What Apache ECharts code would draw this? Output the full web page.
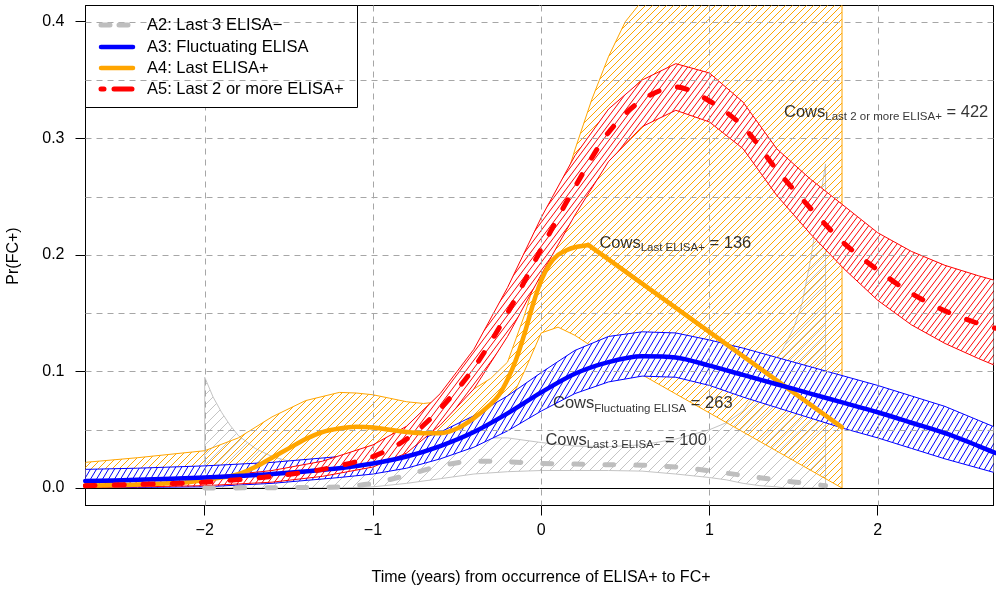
<!DOCTYPE html>
<html>
<head>
<meta charset="utf-8">
<script src="https://cdn.jsdelivr.net/npm/echarts@6/dist/echarts.min.js"></script>
<style>
  html, body { margin: 0; padding: 0; background: #ffffff; }
  #chart { width: 996px; height: 589px; }
</style>
</head>
<body>
<div id="chart"></div>
<script>
// ---- axis ticks and reference lines ----
const xTicks = [-2, -1, 0, 1, 2];
const yTicks = [0, 0.1, 0.2, 0.3, 0.4];
const gridXValues = [-2, -1, 0, 1, 2];
const gridYValues = [0.05, 0.1, 0.15, 0.2, 0.25, 0.3, 0.35, 0.4];

// ---- A2: last 3 ELISA- ----
const a2BandX = [-2.0, -1.95, -1.9, -1.85, -1.8, -1.7, -1.6, -1.5, -1.4, -1.2, -1.0, -0.8, -0.6, -0.4, -0.2, 0.0, 0.2, 0.4, 0.6, 0.8, 1.0, 1.1, 1.2, 1.3, 1.4, 1.45, 1.5, 1.55, 1.6, 1.65, 1.69];
const a2Upper = [0.095, 0.078, 0.065, 0.054, 0.045, 0.034, 0.027, 0.023, 0.021, 0.0195, 0.021, 0.028, 0.038, 0.043, 0.043, 0.039, 0.036, 0.0355, 0.037, 0.042, 0.05, 0.056, 0.066, 0.087, 0.11, 0.123, 0.137, 0.158, 0.195, 0.24, 0.278];
const a2Lower = [0.0, 0.0, 0.0, 0.0, 0.0, 0.0, 0.0, 0.0, 0.0, 0.0, 0.001, 0.004, 0.008, 0.012, 0.014, 0.015, 0.015, 0.015, 0.0145, 0.012, 0.009, 0.007, 0.004, 0.002, 0.001, 0.0, 0.0, 0.0, 0.0, 0.0, 0.0];
const a2MeanX = [-2.0, -1.6, -1.2, -1.0, -0.8, -0.6, -0.4, -0.2, 0.0, 0.2, 0.4, 0.6, 0.8, 1.0, 1.2, 1.4, 1.6, 1.69];
const a2Mean = [0.0, 0.0003, 0.001, 0.004, 0.011, 0.019, 0.023, 0.0225, 0.021, 0.0205, 0.02, 0.0195, 0.018, 0.0148, 0.0108, 0.007, 0.0035, 0.002];

// ---- A3: fluctuating ELISA ----
const a3X = [-2.71, -2.4, -2.0, -1.6, -1.2, -1.0, -0.8, -0.6, -0.4, -0.2, 0.0, 0.2, 0.4, 0.6, 0.8, 1.0, 1.2, 1.4, 1.6, 1.8, 2.0, 2.2, 2.4, 2.6, 2.7];
const a3Mean = [0.006, 0.007, 0.009, 0.012, 0.017, 0.021, 0.027, 0.036, 0.048, 0.064, 0.082, 0.098, 0.108, 0.113, 0.112, 0.105, 0.097, 0.089, 0.081, 0.073, 0.065, 0.056, 0.047, 0.036, 0.03];
const a3Upper = [0.016, 0.017, 0.019, 0.022, 0.027, 0.031, 0.038, 0.048, 0.062, 0.079, 0.099, 0.118, 0.13, 0.134, 0.133, 0.127, 0.12, 0.112, 0.104, 0.096, 0.088, 0.079, 0.07, 0.058, 0.052];
const a3Lower = [0.0, 0.0005, 0.001, 0.004, 0.009, 0.012, 0.017, 0.025, 0.035, 0.049, 0.066, 0.081, 0.091, 0.096, 0.095, 0.088, 0.078, 0.069, 0.06, 0.051, 0.043, 0.034, 0.025, 0.017, 0.013];

// ---- A4: last ELISA+ ----
const a4BandX = [-2.71, -2.4, -2.0, -1.8, -1.6, -1.4, -1.2, -1.1, -1.0, -0.9, -0.8, -0.7, -0.6, -0.5, -0.4, -0.3, -0.2, -0.1, 0.0, 0.1, 0.2, 0.3, 0.4, 0.5, 0.6, 0.8, 1.0, 1.4, 1.788];
const a4Upper = [0.022, 0.026, 0.032, 0.043, 0.061, 0.075, 0.082, 0.0815, 0.08, 0.077, 0.074, 0.0725, 0.074, 0.078, 0.085, 0.094, 0.108, 0.148, 0.195, 0.243, 0.29, 0.333, 0.37, 0.4, 0.418, 0.46, 0.49, 0.52, 0.54];
const a4Lower = [0.0, 0.0005, 0.002, 0.004, 0.008, 0.013, 0.019, 0.022, 0.025, 0.027, 0.029, 0.031, 0.033, 0.035, 0.04, 0.051, 0.07, 0.1, 0.133, 0.138, 0.131, 0.1216, 0.113, 0.105, 0.0971, 0.0807, 0.0644, 0.0317, 0.0];
// rising, curved part up to the peak
const a4CurveX = [-2.71, -2.4, -2.1, -1.9, -1.8, -1.7, -1.6, -1.5, -1.4, -1.3, -1.2, -1.1, -1.0, -0.9, -0.8, -0.7, -0.6, -0.5, -0.4, -0.3, -0.25, -0.2, -0.15, -0.1, -0.05, 0.0, 0.05, 0.1, 0.15, 0.2, 0.28];
const a4Curve = [0.002, 0.003, 0.005, 0.009, 0.012, 0.018, 0.026, 0.034, 0.042, 0.048, 0.051, 0.0525, 0.052, 0.05, 0.048, 0.047, 0.047, 0.051, 0.06, 0.072, 0.08, 0.093, 0.11, 0.132, 0.157, 0.178, 0.192, 0.2, 0.204, 0.2065, 0.2085];
// straight decline after the peak
const a4TailX = [0.28, 1.788];
const a4Tail = [0.2085, 0.052];

// ---- A5: last 2 or more ELISA+ ----
const a5X = [-2.71, -2.4, -2.0, -1.6, -1.3, -1.0, -0.8, -0.6, -0.4, -0.2, 0.0, 0.2, 0.4, 0.6, 0.8, 1.0, 1.2, 1.4, 1.6, 1.8, 2.0, 2.2, 2.4, 2.6, 2.7];
const a5Mean = [0.002, 0.003, 0.005, 0.01, 0.016, 0.027, 0.042, 0.068, 0.103, 0.15, 0.205, 0.258, 0.305, 0.333, 0.344, 0.332, 0.31, 0.273, 0.24, 0.21, 0.187, 0.167, 0.152, 0.141, 0.137];
const a5Upper = [0.004, 0.006, 0.009, 0.015, 0.023, 0.037, 0.053, 0.081, 0.119, 0.172, 0.232, 0.285, 0.325, 0.35, 0.364, 0.356, 0.331, 0.291, 0.265, 0.242, 0.219, 0.203, 0.191, 0.182, 0.178];
const a5Lower = [0.0005, 0.001, 0.002, 0.005, 0.01, 0.018, 0.03, 0.054, 0.085, 0.13, 0.183, 0.234, 0.28, 0.31, 0.324, 0.314, 0.291, 0.251, 0.218, 0.188, 0.161, 0.14, 0.124, 0.111, 0.105];

// ---- herd-size annotations ----
const noteX = [1.443, 0.346, 0.07, 0.025];
const noteY = [0.3225, 0.2102, 0.0725, 0.0412];
const noteGroup = ['Last 2 or more ELISA+', 'Last ELISA+', 'Fluctuating ELISA', 'Last 3 ELISA\u2212'];
const noteCount = [422, 136, 263, 100];

// ---- legend entries ----
const legendNames = ['A2: Last 3 ELISA\u2212', 'A3: Fluctuating ELISA', 'A4: Last ELISA+', 'A5: Last 2 or more ELISA+'];

const FONT = '"Liberation Sans", Arial, Helvetica, sans-serif';
const C_GREY = '#bebebe', C_BLUE = '#0000ff', C_ORANGE = '#ffa500', C_RED = '#ff0000';

// Diagonal hatching tile: one line per tile from bottom-left to top-right corner.
function hatch(color, w, h, bg) {
  const c = document.createElement('canvas');
  c.width = w; c.height = h;
  const g = c.getContext('2d');
  if (bg) { g.fillStyle = bg; g.fillRect(0, 0, w, h); }
  g.strokeStyle = color;
  g.lineWidth = 1;
  g.beginPath();
  for (let k = -1; k <= 1; k++) { g.moveTo(k * w, h); g.lineTo((k + 1) * w, 0); }
  g.stroke();
  return { image: c, repeat: 'repeat' };
}

function bandSeries(xs, lo, hi, fill, stroke, z) {
  return {
    type: 'custom', z: z, silent: true, animation: false,
    data: xs.map((x, i) => [x, lo[i], hi[i]]),
    encode: { x: 0, y: [1, 2] },
    renderItem(params, api) {
      if (params.dataIndex !== 0) return null;
      const pts = [];
      for (let i = 0; i < xs.length; i++) pts.push(api.coord([xs[i], hi[i]]));
      for (let i = xs.length - 1; i >= 0; i--) pts.push(api.coord([xs[i], lo[i]]));
      const cs = params.coordSys;
      return {
        type: 'polygon',
        shape: { points: pts },
        style: { fill: fill, stroke: stroke, lineWidth: 1 },
        clipPath: { type: 'rect', shape: { x: cs.x, y: cs.y, width: cs.width, height: cs.height } }
      };
    }
  };
}

function meanSeries(xs, ys, color, width, dash, z, smooth) {
  return {
    type: 'line', z: z, silent: true, animation: false,
    showSymbol: false, symbol: 'none', smooth: smooth,
    data: xs.map((x, i) => [x, ys[i]]),
    lineStyle: { color: color, width: width, type: dash || 'solid', cap: 'round', join: 'round' }
  };
}

function vLines(values, color, dash, z) {
  return {
    type: 'custom', z: z, silent: true, animation: false,
    data: values.map(v => [v]),
    encode: { x: 0 },
    renderItem(params, api) {
      const cs = params.coordSys;
      const x = Math.round(api.coord([api.value(0), 0])[0]) + 0.5;
      return { type: 'line', shape: { x1: x, y1: cs.y, x2: x, y2: cs.y + cs.height },
        style: { stroke: color, lineWidth: 1, lineDash: dash } };
    }
  };
}

function hLines(values, color, dash, z) {
  return {
    type: 'custom', z: z, silent: true, animation: false,
    data: values.map(v => [0, v]),
    encode: { x: 0, y: 1 },
    renderItem(params, api) {
      const cs = params.coordSys;
      const y = Math.round(api.coord([0, api.value(1)])[1]) + 0.5;
      return { type: 'line', shape: { x1: cs.x, y1: y, x2: cs.x + cs.width, y2: y },
        style: { stroke: color, lineWidth: 1, lineDash: dash } };
    }
  };
}

const gridDash = [6, 5];
const gridColor = '#a6a6a6';

const series = [
  bandSeries(a2BandX, a2Lower, a2Upper, hatch('#c4c4c4', 10, 10), '#c4c4c4', 2),
  bandSeries(a4BandX, a4Lower, a4Upper, hatch(C_ORANGE, 7, 7), C_ORANGE, 2),
  bandSeries(a3X, a3Lower, a3Upper, hatch(C_BLUE, 6, 10, '#ffffff'), C_BLUE, 2),
  bandSeries(a5X, a5Lower, a5Upper, hatch(C_RED, 6, 8, '#ffffff'), C_RED, 2),
  vLines(gridXValues, gridColor, gridDash, 3),
  hLines(gridYValues, gridColor, gridDash, 5),
  hLines([0], '#000000', null, 5),
  meanSeries(a2MeanX, a2Mean, C_GREY, 5, [9, 22], 6, 0.3),
  meanSeries(a4CurveX, a4Curve, C_ORANGE, 4.5, null, 6, 0.3),
  meanSeries(a4TailX, a4Tail, C_ORANGE, 4.5, null, 6, false),
  meanSeries(a3X, a3Mean, C_BLUE, 4.5, null, 6, 0.3),
  meanSeries(a5X, a5Mean, C_RED, 5, [10, 19], 6, 0.3),
  {
    type: 'scatter', z: 8, silent: true, animation: false,
    symbolSize: 0.001,
    data: noteX.map((x, i) => ({ value: [x, noteY[i]], sub: noteGroup[i], n: noteCount[i] })),
    label: {
      show: true, position: 'right', distance: 0,
      formatter: p => '{a|Cows}{b|' + p.data.sub + '}{a| = ' + p.data.n + '}',
      rich: {
        a: { fontFamily: FONT, fontSize: 16.5, color: '#000', lineHeight: 22 },
        b: { fontFamily: FONT, fontSize: 11.5, color: '#000', lineHeight: 12, verticalAlign: 'bottom' }
      }
    }
  }
];

// Legend box drawn as graphic elements
const legendRowsY = [25, 47, 68, 89];
const legendStyles = [
  { color: C_GREY, width: 5, dash: [9, 9] },
  { color: C_BLUE, width: 4.5, dash: null },
  { color: C_ORANGE, width: 4.5, dash: null },
  { color: C_RED, width: 5, dash: [3, 10, 18, 100] }
];
const graphics = [
  { type: 'rect', z: 4, silent: true, shape: { x: 85.5, y: 5.5, width: 272, height: 102 },
    style: { fill: '#ffffff', stroke: '#000000', lineWidth: 1 } }
];
legendRowsY.forEach((y, i) => {
  const s = legendStyles[i];
  graphics.push({ type: 'line', z: 7, silent: true, shape: { x1: 101, y1: y, x2: 133, y2: y },
    style: { stroke: s.color, lineWidth: s.width, lineDash: s.dash, lineCap: 'round' } });
  graphics.push({ type: 'text', z: 7, silent: true, x: 147, y: y,
    style: { text: legendNames[i], font: '16.5px ' + FONT, fill: '#000', verticalAlign: 'middle', align: 'left' } });
});
graphics.push({ type: 'text', silent: true, x: 541, y: 578,
  style: { text: 'Time (years) from occurrence of ELISA+ to FC+', font: '16px ' + FONT, fill: '#000', align: 'center', verticalAlign: 'middle' } });
graphics.push({ type: 'text', silent: true, x: 14, y: 256, rotation: Math.PI / 2,
  style: { text: 'Pr(FC+)', font: '16px ' + FONT, fill: '#000', align: 'center', verticalAlign: 'middle' } });

const chart = echarts.init(document.getElementById('chart'), null, { renderer: 'canvas' });
chart.setOption({
  animation: false,
  backgroundColor: '#ffffff',
  grid: { left: 85.5, right: 2.5, top: 5.5, bottom: 83.5, show: true, borderColor: '#000', borderWidth: 1, backgroundColor: 'transparent' },
  xAxis: {
    type: 'value', min: -2.7085, max: 2.6883,
    axisLine: { show: true, onZero: false, lineStyle: { color: '#000', width: 1 } },
    axisTick: { show: true, length: 10, customValues: xTicks, lineStyle: { color: '#000' } },
    axisLabel: { customValues: xTicks, margin: 17, fontSize: 16, fontFamily: FONT, color: '#000',
      formatter: v => String(v).replace('-', '\u2212') },
    splitLine: { show: false }
  },
  yAxis: {
    type: 'value', min: -0.0150, max: 0.4139,
    axisLine: { show: true, onZero: false, lineStyle: { color: '#000', width: 1 } },
    axisTick: { show: true, length: 10, customValues: yTicks, lineStyle: { color: '#000' } },
    axisLabel: { customValues: yTicks, margin: 21, fontSize: 16, fontFamily: FONT, color: '#000',
      formatter: v => Number(v).toFixed(1) },
    splitLine: { show: false }
  },
  graphic: graphics,
  series: series
});
</script>
</body>
</html>
